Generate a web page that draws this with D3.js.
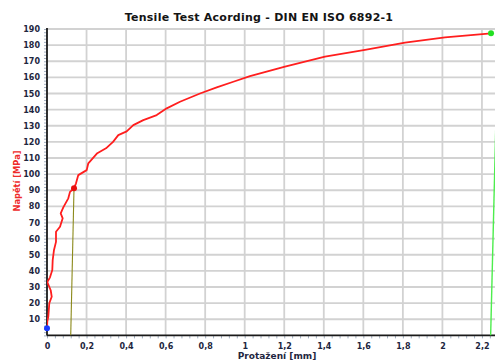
<!DOCTYPE html>
<html>
<head>
<meta charset="utf-8">
<script src="https://cdn.jsdelivr.net/npm/d3@7"></script>
<style>
  html, body { margin: 0; padding: 0; background: #fff; }
  svg { display: block; }
  text { font-family: "DejaVu Sans", Verdana, sans-serif; }
</style>
</head>
<body>
<svg id="chart" width="495" height="360"></svg>
<script>
// Measured tensile curve: elongation [mm] and stress [MPa]
const elongation = [0.0000, 0.0005, 0.0015, 0.0066, 0.0116, 0.0238, 0.0187, 0.0015, 0.0152, 0.0268,
  0.0288, 0.0354, 0.0455, 0.0455, 0.0658, 0.0794, 0.0693, 0.0824, 0.1077, 0.1163,
  0.1366, 0.1467, 0.1583, 0.2008, 0.2089, 0.2544, 0.2984, 0.3340, 0.3606, 0.4030,
  0.4365, 0.4871, 0.5549, 0.6055, 0.6727, 0.7739, 0.8584, 0.9424, 1.0268, 1.2038,
  1.4062, 1.6085, 1.8108, 2.0131, 2.2458];
const stress = [4.5, 6.0, 8.5, 11.6, 19.9, 24.0, 28.0, 33.0, 36.0, 40.5,
  46.7, 53.0, 58.0, 64.3, 67.4, 72.6, 75.7, 79.4, 85.0, 89.0,
  91.2, 94.3, 99.4, 102.5, 106.7, 113.0, 116.0, 120.0, 124.2, 126.5,
  130.4, 133.5, 136.6, 140.8, 144.9, 150.0, 153.8, 157.3, 160.8, 166.6,
  172.8, 177.0, 181.5, 184.8, 187.3];

// Offset (proof) line at yield and the closing line at fracture
const yieldLineX = [0.120, 0.1366];
const yieldLineY = [0, 91.2];
const breakLineX = [2.244, 2.282];
const breakLineY = [0, 190];

// Marked points: start, yield, maximum
const markX = [0.0, 0.1366, 2.2458];
const markY = [4.5, 91.2, 187.3];
const markColor = ["#1a3cff", "#e81010", "#22e022"];

const xTicks = [0, 0.2, 0.4, 0.6, 0.8, 1, 1.2, 1.4, 1.6, 1.8, 2, 2.2];
const yTicks = [10, 20, 30, 40, 50, 60, 70, 80, 90, 100, 110, 120, 130, 140, 150, 160, 170, 180, 190];

const svg = d3.select("#chart");
const pLeft = 47, pRight = 495, pTop = 29, pBottom = 335.4;

const x = d3.scaleLinear().domain([0, 2.266]).range([pLeft, pRight]);
const y = d3.scaleLinear().domain([0, 190]).range([pBottom, pTop]);

const fmt = v => String(v).replace(".", ",");

svg.append("defs").append("clipPath").attr("id", "plot")
  .append("rect").attr("x", pLeft).attr("y", pTop - 5).attr("width", pRight - pLeft).attr("height", pBottom - pTop + 5);

// Grid
const grid = svg.append("g").attr("stroke", "#d2d2d2").attr("stroke-width", 1.8);
grid.selectAll("line.h").data(yTicks).join("line").attr("class", "h")
  .attr("x1", pLeft).attr("x2", pRight).attr("y1", d => y(d)).attr("y2", d => y(d));
grid.selectAll("line.v").data(xTicks.filter(d => d > 0)).join("line").attr("class", "v")
  .attr("x1", d => x(d)).attr("x2", d => x(d)).attr("y1", pTop).attr("y2", pBottom);

// Axes with minor ticks
const xMinor = d3.range(0, 2.27, 0.04);
const yMinor = d3.range(0, 190.1, 2);

const xAxis = svg.append("g").attr("transform", `translate(0,${pBottom})`)
  .call(d3.axisBottom(x).tickValues(xMinor).tickSize(3).tickFormat(""));
const yAxis = svg.append("g").attr("transform", `translate(${pLeft},0)`)
  .call(d3.axisLeft(y).tickValues(yMinor).tickSize(3).tickFormat(""));
[xAxis, yAxis].forEach(a => {
  a.selectAll(".tick line").attr("stroke", "#8a9ab0").attr("stroke-width", 0.8);
  a.select(".domain").remove();
});

const xLab = svg.append("g").attr("transform", `translate(0,${pBottom})`)
  .call(d3.axisBottom(x).tickValues(xTicks).tickSize(0).tickPadding(8).tickFormat(fmt));
const yLab = svg.append("g").attr("transform", `translate(${pLeft},0)`)
  .call(d3.axisLeft(y).tickValues(yTicks).tickSize(0).tickPadding(7).tickFormat(d3.format("d")));
[xLab, yLab].forEach(a => {
  a.select(".domain").remove();
  a.selectAll("text").attr("font-family", "DejaVu Sans, Verdana, sans-serif")
    .attr("font-size", 8).attr("font-weight", "bold").attr("fill", "#1e2640");
});

svg.append("line").attr("x1", pLeft).attr("x2", pRight).attr("y1", pBottom).attr("y2", pBottom)
  .attr("stroke", "#1a1a1a").attr("stroke-width", 1.8);
svg.append("line").attr("x1", pLeft).attr("x2", pLeft).attr("y1", pTop - 1).attr("y2", pBottom)
  .attr("stroke", "#1a1a1a").attr("stroke-width", 1.8);

const plot = svg.append("g").attr("clip-path", "url(#plot)");
const line = d3.line().x(d => x(d[0])).y(d => y(d[1]));

plot.append("path").datum(d3.zip(yieldLineX, yieldLineY)).attr("d", line)
  .attr("fill", "none").attr("stroke", "#8c8a1c").attr("stroke-width", 1.1);
plot.append("path").datum(d3.zip(breakLineX, breakLineY)).attr("d", line)
  .attr("fill", "none").attr("stroke", "#4ded4d").attr("stroke-width", 1.4);

plot.append("path").datum(d3.zip(elongation, stress)).attr("d", line)
  .attr("fill", "none").attr("stroke", "#ff1e1e").attr("stroke-width", 1.8)
  .attr("stroke-linejoin", "round");

svg.selectAll("circle.mark").data(d3.range(markX.length)).join("circle").attr("class", "mark")
  .attr("cx", i => x(markX[i])).attr("cy", i => y(markY[i])).attr("r", 3)
  .attr("fill", i => markColor[i]);

// Titles
svg.append("text").attr("x", 259).attr("y", 21).attr("text-anchor", "middle")
  .attr("font-size", 11).attr("letter-spacing", 0.25).attr("font-weight", "bold").attr("fill", "#141414")
  .text("Tensile Test Acording - DIN EN ISO 6892-1");
svg.append("text").attr("transform", "translate(20,181) rotate(-90)").attr("text-anchor", "middle")
  .attr("font-size", 8.3).attr("font-weight", "bold").attr("fill", "#ee2a2a")
  .text("Napětí [MPa]");
svg.append("text").attr("x", 277).attr("y", 358.5).attr("text-anchor", "middle")
  .attr("font-size", 9).attr("font-weight", "bold").attr("fill", "#1e2640")
  .text("Protažení [mm]");
</script>
</body>
</html>
